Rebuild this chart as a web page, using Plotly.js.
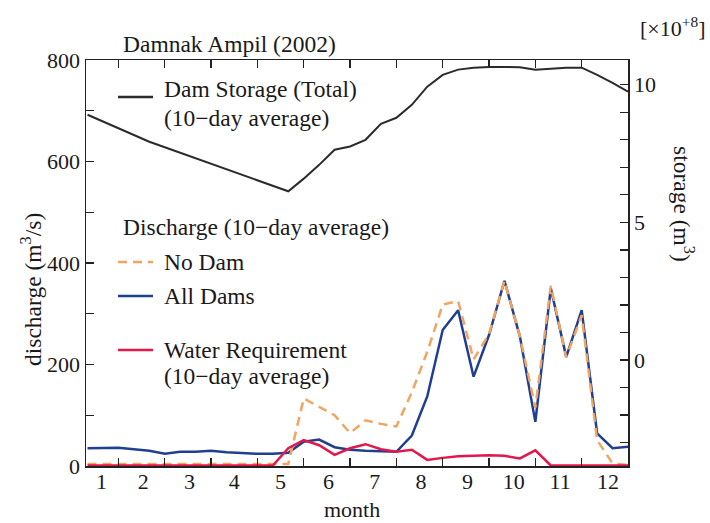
<!DOCTYPE html>
<html>
<head>
<meta charset="utf-8">
<script src="https://cdn.plot.ly/plotly-3.0.1.min.js"></script>
<style>
  html, body { margin: 0; padding: 0; background: #ffffff; }
  #chart { width: 710px; height: 523px; }
</style>
</head>
<body>
<div id="chart"></div>
<script>
// 10-day periods (dekads) along the year
const dekad = [1, 2, 3, 4, 5, 6, 7, 8, 9, 10, 11, 12, 13, 14, 15, 16, 17, 18,
               19, 20, 21, 22, 23, 24, 25, 26, 27, 28, 29, 30, 31, 32, 33, 34, 35, 36];

// month labels and their positions (in dekad units)
const monthLabels = ['1', '2', '3', '4', '5', '6', '7', '8', '9', '10', '11', '12'];
const monthPos = [1.9, 4.6, 7.6, 10.5, 13.5, 16.6, 19.6, 22.6, 25.6, 28.6, 31.6, 34.7];
// month boundaries (tick marks)
const monthEdges = [3, 6, 9, 12, 15, 18, 21, 24, 27, 30, 33];

// left axis ticks
const dischargeTicks = [0, 100, 200, 300, 400, 500, 600, 700, 800];
const dischargeTickText = ['0', '', '200', '', '400', '', '600', '', '800'];
// right axis ticks
const storageTicks = [-3, -2, -1, 0, 1, 2, 3, 4, 5, 6, 7, 8, 9, 10];
const storageTickText = ['', '', '', '0', '', '', '', '', '5', '', '', '', '', '10'];

// Dam storage (total), x10^8 m3
const storage = [8.91, 8.67, 8.42, 8.18, 7.93, 7.73, 7.53, 7.34, 7.13, 6.94, 6.73, 6.54,
                 6.33, 6.13, 6.59, 7.09, 7.64, 7.76, 8.00, 8.58, 8.80, 9.27, 9.93, 10.36,
                 10.55, 10.62, 10.65, 10.65, 10.64, 10.55, 10.58, 10.62, 10.62, 10.36, 10.07, 9.75];

// Discharge, m3/s
const noDam = [4, 4, 4, 4, 4, 4, 4, 4, 4, 4, 4, 4,
               4, 4, 133, 116, 100, 65, 90, 83, 78, 145, 225, 318,
               325, 210, 260, 365, 255, 115, 355, 214, 297, 51, 5, 2];
const allDams = [35, 35, 36, 33, 30, 24, 28, 28, 30, 27, 25, 24,
                 24, 26, 48, 52, 37, 32, 30, 29, 28, 60, 137, 268,
                 307, 176, 258, 365, 255, 87, 350, 215, 307, 64, 35, 38];
const waterReq = [1, 1, 1, 1, 1, 1, 1, 1, 1, 1, 1, 1,
                  1, 35, 51, 41, 22, 35, 43, 33, 28, 32, 12, 16,
                  19, 20, 21, 20, 15, 31, 1, 1, 1, 1, 1, 1];

const FONT = 'Liberation Serif, Times New Roman, serif';
const TXT = '#1a1a1a';
const AX = '#222222';
const C_STORAGE = '#2b2b2b';
const C_BLUE = '#1f3f8f';
const C_ORANGE = '#f2a463';
const C_RED = '#e3174a';

// plot-area pixel helpers for legend placement (paper coords)
const L = 86, R = 628, T = 60, B = 466;
const px = v => (v - L) / (R - L);
const py = v => (B - v) / (B - T);

const traces = [
  { x: dekad, y: storage, yaxis: 'y2', type: 'scatter', mode: 'lines',
    line: { color: C_STORAGE, width: 2 }, name: 'Dam Storage', showlegend: false },
  { x: dekad, y: allDams, type: 'scatter', mode: 'lines',
    line: { color: C_BLUE, width: 2.5 }, name: 'All Dams', showlegend: false },
  { x: dekad, y: noDam, type: 'scatter', mode: 'lines',
    line: { color: C_ORANGE, width: 2.5, dash: '9px,6px' }, name: 'No Dam', showlegend: false },
  { x: dekad, y: waterReq, type: 'scatter', mode: 'lines',
    line: { color: C_RED, width: 2.5 }, name: 'Water Requirement', showlegend: false }
];

function legLine(y, color, dash, w) {
  return { type: 'line', xref: 'paper', yref: 'paper',
           x0: px(118), x1: px(153), y0: py(y), y1: py(y),
           line: { color: color, width: w, dash: dash } };
}
function txt(text, x, y, opts) {
  return Object.assign({ text: text, xref: 'paper', yref: 'paper', x: px(x), y: py(y),
           xanchor: 'left', yanchor: 'middle', showarrow: false,
           font: { family: FONT, size: 23.5, color: TXT } }, opts || {});
}

const tickFont = { family: FONT, size: 22, color: TXT };

const layout = {
  width: 710, height: 523,
  margin: { l: L, r: 710 - R, t: T, b: 523 - B, pad: 0 },
  paper_bgcolor: '#ffffff', plot_bgcolor: '#ffffff',
  font: { family: FONT, size: 22, color: TXT },
  showlegend: false,
  // bottom axis: line + boundary ticks
  xaxis: {
    range: [0.9, 36], showgrid: false, zeroline: false,
    showline: true, linecolor: AX, linewidth: 1.5,
    tickmode: 'array', tickvals: monthEdges, showticklabels: false,
    ticks: 'inside', ticklen: 8, tickcolor: AX, tickwidth: 1.2
  },
  // top axis: line + boundary ticks
  xaxis2: {
    overlaying: 'x', side: 'top', anchor: 'y', matches: 'x',
    range: [0.9, 36], showgrid: false, zeroline: false,
    showline: true, linecolor: AX, linewidth: 1.5,
    tickmode: 'array', tickvals: monthEdges, showticklabels: false,
    ticks: 'inside', ticklen: 8, tickcolor: AX, tickwidth: 1.2
  },
  // bottom month labels
  xaxis3: {
    overlaying: 'x', side: 'bottom', anchor: 'y', matches: 'x',
    range: [0.9, 36], showgrid: false, zeroline: false, showline: false,
    tickmode: 'array', tickvals: monthPos, ticktext: monthLabels,
    ticks: '', tickfont: tickFont
  },
  yaxis: {
    range: [0, 800], showgrid: false, zeroline: false,
    showline: true, linecolor: AX, linewidth: 1.5,
    tickmode: 'array', tickvals: dischargeTicks, ticktext: dischargeTickText,
    ticks: 'inside', ticklen: 8, tickcolor: AX, tickwidth: 1.2,
    tickfont: tickFont
  },
  yaxis2: {
    overlaying: 'y', side: 'right', range: [-3.85, 10.9],
    showgrid: false, zeroline: false,
    showline: true, linecolor: AX, linewidth: 1.5,
    tickmode: 'array', tickvals: storageTicks, ticktext: storageTickText,
    ticks: 'inside', ticklen: 8, tickcolor: AX, tickwidth: 1.2,
    tickfont: tickFont
  },
  shapes: [
    legLine(97, C_STORAGE, 'solid', 2.5),
    legLine(262, C_ORANGE, '9px,6px', 2.5),
    legLine(296, C_BLUE, 'solid', 2.5),
    legLine(350, C_RED, 'solid', 2.5)
  ],
  annotations: [
    txt('Damnak Ampil (2002)', 121, 44),
    txt('Dam Storage (Total)', 162, 89),
    txt('(10−day average)', 162, 118),
    txt('Discharge (10−day average)', 121, 227),
    txt('No Dam', 162, 262),
    txt('All Dams', 162, 296),
    txt('Water Requirement', 162, 350),
    txt('(10−day average)', 162, 376),
    txt('month', 352, 509, { xanchor: 'center', font: { family: FONT, size: 22, color: TXT } }),
    txt('discharge (m<sup>3</sup>/s)', 31, 290, { xanchor: 'center', textangle: -90 }),
    txt('storage (m<sup>3</sup>)', 684, 204, { xanchor: 'center', textangle: 90 }),
    txt('[×10<sup>+8</sup>]', 672, 27, { xanchor: 'center', font: { family: FONT, size: 22, color: TXT } })
  ]
};

// dummy traces so the extra x axes are drawn
traces.push({ x: [], y: [], xaxis: 'x2', type: 'scatter', mode: 'lines', showlegend: false, hoverinfo: 'skip' });
traces.push({ x: [], y: [], xaxis: 'x3', type: 'scatter', mode: 'lines', showlegend: false, hoverinfo: 'skip' });

Plotly.newPlot('chart', traces, layout, { staticPlot: true, displayModeBar: false });
</script>
</body>
</html>
